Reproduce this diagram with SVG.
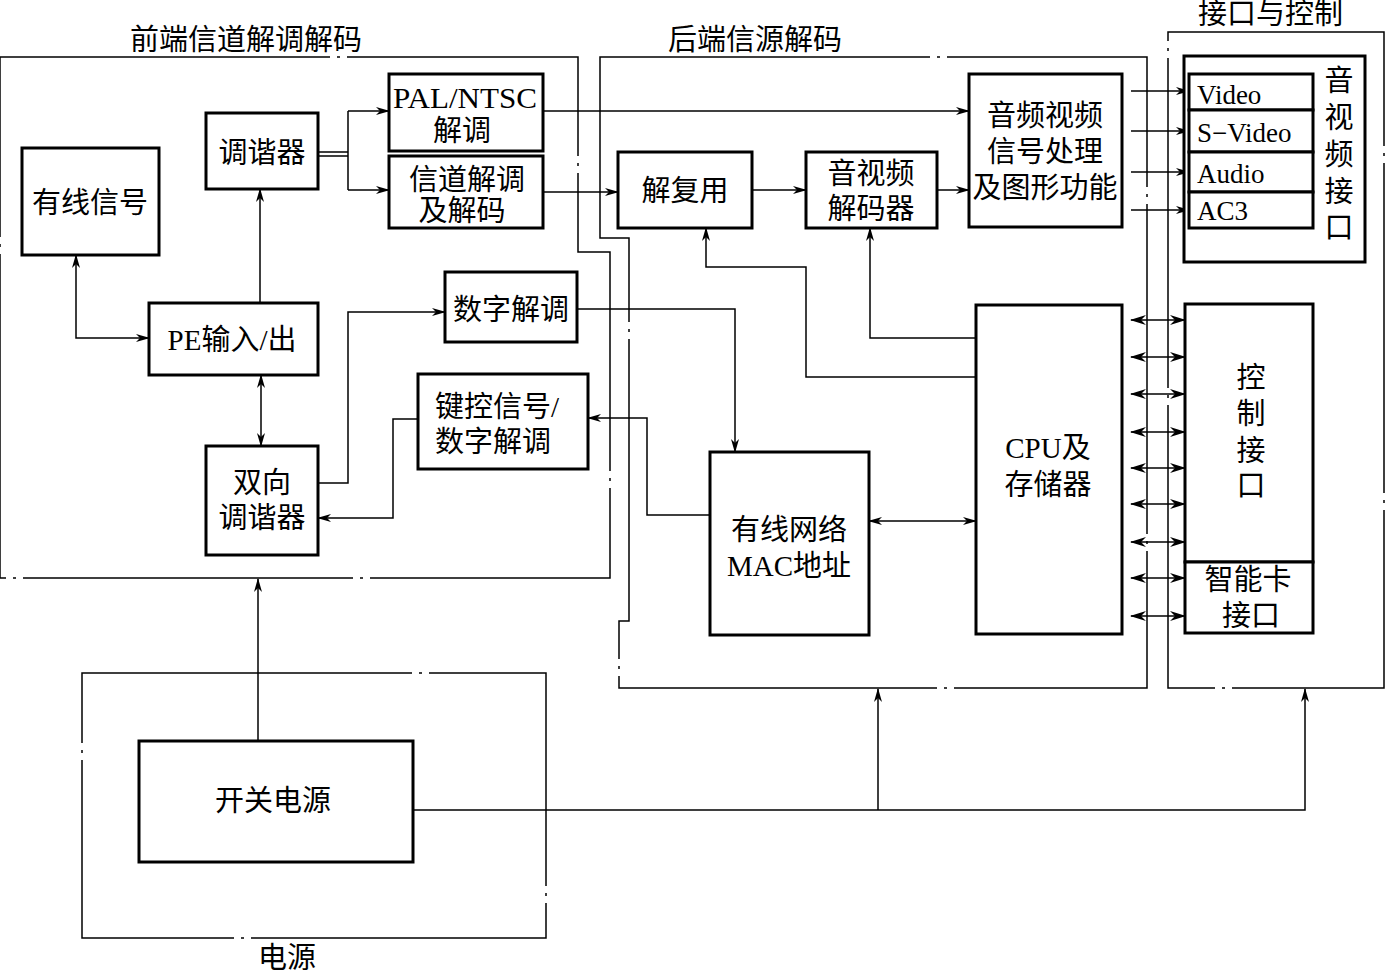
<svg xmlns="http://www.w3.org/2000/svg" width="1387" height="975" viewBox="0 0 1387 975">
<style>
.reg{fill:none;stroke:#000;stroke-width:1.5;stroke-dasharray:330 7 3 7}
.box{fill:#fff;stroke:#000;stroke-width:3}
.cn{fill:none;stroke:#000;stroke-width:1.5}
text{font-family:"Liberation Serif","Noto Sans CJK SC",serif;font-size:29px;fill:#000}
.c{text-anchor:middle}
.l{font-size:27px}
</style>
<defs>
<marker id="a" viewBox="0 0 14 8" refX="13" refY="4" markerWidth="14" markerHeight="8" markerUnits="userSpaceOnUse" orient="auto-start-reverse">
<path d="M0,0 L14,4 L0,8 L4,4 z" fill="#000"/>
</marker>
<marker id="b" viewBox="0 0 16 10" refX="15" refY="5" markerWidth="16" markerHeight="10" markerUnits="userSpaceOnUse" orient="auto-start-reverse">
<path d="M0,0 L16,5 L0,10 L5,5 z" fill="#000"/>
</marker>
</defs>
<g id="regions">
<path class="reg" d="M0,57 H578 V252 H610 V578 H0 Z"/>
<path class="reg" d="M600,57 H1147 V688 H619 V621 H629 V238 H600 Z"/>
<path class="reg" d="M1168,32 H1384 V688 H1168 Z"/>
<path class="reg" d="M82,673 H546 V938 H82 Z"/>
<text x="130" y="50">前端信道解调解码</text>
<text x="668" y="50">后端信源解码</text>
<text x="1198" y="24">接口与控制</text>
<text x="258" y="968">电源</text>
</g>
<g id="connectors">
<path class="cn" d="M318,152 H348 M318,156 H348 M348,111 V190"/>
<path class="cn" d="M348,111 H389" marker-end="url(#a)"/>
<path class="cn" d="M348,190 H389" marker-end="url(#a)"/>
<path class="cn" d="M543,111 H969" marker-end="url(#a)"/>
<path class="cn" d="M543,192 H618" marker-end="url(#a)"/>
<path class="cn" d="M752,190 H806" marker-end="url(#a)"/>
<path class="cn" d="M937,190 H969" marker-end="url(#a)"/>
<path class="cn" d="M1131,91 H1189" marker-end="url(#a)"/>
<path class="cn" d="M1131,131 H1189" marker-end="url(#a)"/>
<path class="cn" d="M1131,172 H1189" marker-end="url(#a)"/>
<path class="cn" d="M1131,210 H1189" marker-end="url(#a)"/>
<path class="cn" d="M76,255 V338 H149" marker-start="url(#a)" marker-end="url(#a)"/>
<path class="cn" d="M260,303 V189" marker-end="url(#a)"/>
<path class="cn" d="M261,375 V446" marker-start="url(#a)" marker-end="url(#a)"/>
<path class="cn" d="M318,483 H348 V312 H445" marker-end="url(#a)"/>
<path class="cn" d="M418,419 H393 V518 H318" marker-end="url(#a)"/>
<path class="cn" d="M577,309 H735 V452" marker-end="url(#a)"/>
<path class="cn" d="M710,515 H647 V418 H588" marker-end="url(#a)"/>
<path class="cn" d="M869,521 H976" marker-start="url(#a)" marker-end="url(#a)"/>
<path class="cn" d="M976,377 H806 V267 H706 V228" marker-end="url(#a)"/>
<path class="cn" d="M976,338 H870 V228" marker-end="url(#a)"/>
<path class="cn" d="M1131,320 H1185" marker-start="url(#b)" marker-end="url(#b)"/>
<path class="cn" d="M1131,357 H1185" marker-start="url(#b)" marker-end="url(#b)"/>
<path class="cn" d="M1131,394 H1185" marker-start="url(#b)" marker-end="url(#b)"/>
<path class="cn" d="M1131,432 H1185" marker-start="url(#b)" marker-end="url(#b)"/>
<path class="cn" d="M1131,468 H1185" marker-start="url(#b)" marker-end="url(#b)"/>
<path class="cn" d="M1131,504 H1185" marker-start="url(#b)" marker-end="url(#b)"/>
<path class="cn" d="M1131,542 H1185" marker-start="url(#b)" marker-end="url(#b)"/>
<path class="cn" d="M1131,578 H1185" marker-start="url(#b)" marker-end="url(#b)"/>
<path class="cn" d="M1131,616 H1185" marker-start="url(#b)" marker-end="url(#b)"/>
<path class="cn" d="M258,741 V579" marker-end="url(#a)"/>
<path class="cn" d="M413,810 H1305 V689" marker-end="url(#a)"/>
<path class="cn" d="M878,810 V689" marker-end="url(#a)"/>
</g>
<g id="n-cable"><rect class="box" x="22" y="148" width="137" height="107"/><text class="c" x="90" y="213">有线信号</text></g>
<g id="n-tuner"><rect class="box" x="206" y="113" width="112" height="76"/><text class="c" x="262" y="163">调谐器</text></g>
<g id="n-pal"><rect class="box" x="389" y="74" width="154" height="77"/><text class="c" x="465" y="108" textLength="144" lengthAdjust="spacingAndGlyphs">PAL/NTSC</text><text class="c" x="462" y="141">解调</text></g>
<g id="n-chan"><rect class="box" x="389" y="156" width="154" height="72"/><text class="c" x="467" y="190">信道解调</text><text class="c" x="462" y="221">及解码</text></g>
<g id="n-pe"><rect class="box" x="149" y="303" width="169" height="72"/><text class="c" x="232" y="350">PE输入/出</text></g>
<g id="n-dd"><rect class="box" x="445" y="272" width="132" height="70"/><text class="c" x="511" y="320">数字解调</text></g>
<g id="n-key"><rect class="box" x="418" y="374" width="170" height="95"/><text x="435" y="417">键控信号/</text><text x="435" y="452">数字解调</text></g>
<g id="n-bi"><rect class="box" x="206" y="446" width="112" height="109"/><text class="c" x="262" y="493">双向</text><text class="c" x="262" y="528">调谐器</text></g>
<g id="n-demux"><rect class="box" x="618" y="152" width="134" height="76"/><text class="c" x="685" y="201">解复用</text></g>
<g id="n-avdec"><rect class="box" x="806" y="152" width="131" height="76"/><text class="c" x="871" y="184">音视频</text><text class="c" x="871" y="219">解码器</text></g>
<g id="n-avproc"><rect class="box" x="969" y="74" width="153" height="153"/><text class="c" x="1045" y="126">音频视频</text><text class="c" x="1045" y="162">信号处理</text><text class="c" x="1045" y="198">及图形功能</text></g>
<g id="n-mac"><rect class="box" x="710" y="452" width="159" height="183"/><text class="c" x="789" y="540">有线网络</text><text class="c" x="789" y="576">MAC地址</text></g>
<g id="n-cpu"><rect class="box" x="976" y="305" width="146" height="329"/><text class="c" x="1048" y="458">CPU及</text><text class="c" x="1048" y="495">存储器</text></g>
<g id="n-avif">
<rect class="box" x="1184" y="56" width="181" height="206"/>
<rect class="box" x="1189" y="74" width="124" height="36"/>
<rect class="box" x="1189" y="110" width="124" height="42"/>
<rect class="box" x="1189" y="152" width="124" height="40"/>
<rect class="box" x="1189" y="192" width="124" height="36"/>
<text class="l" x="1197" y="104">Video</text>
<text class="l" x="1197" y="142">S−Video</text>
<text class="l" x="1197" y="183">Audio</text>
<text class="l" x="1197" y="220">AC3</text>
<text class="c" x="1339" y="91">音</text><text class="c" x="1339" y="128">视</text><text class="c" x="1339" y="165">频</text><text class="c" x="1339" y="202">接</text><text class="c" x="1339" y="238">口</text>
</g>
<g id="n-ctrl"><rect class="box" x="1185" y="304" width="128" height="258"/><text class="c" x="1251" y="388">控</text><text class="c" x="1251" y="424">制</text><text class="c" x="1251" y="461">接</text><text class="c" x="1251" y="496">口</text></g>
<g id="n-smart"><rect class="box" x="1185" y="562" width="128" height="71"/><text class="c" x="1248" y="590">智能卡</text><text class="c" x="1251" y="626">接口</text></g>
<g id="n-psu"><rect class="box" x="139" y="741" width="274" height="121"/><text class="c" x="273" y="811">开关电源</text></g>
</svg>
